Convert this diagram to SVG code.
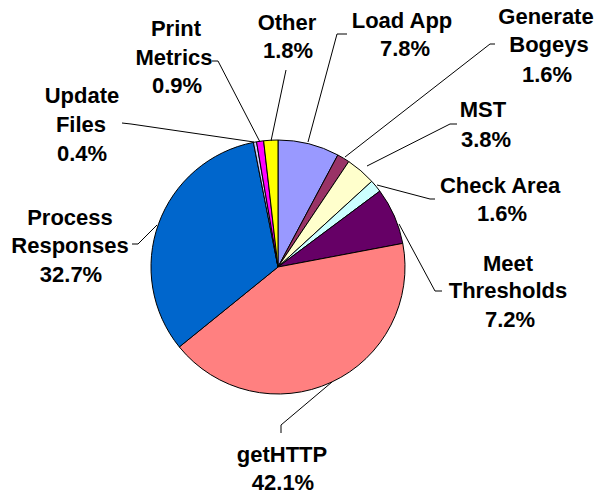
<svg xmlns="http://www.w3.org/2000/svg" width="603" height="494" viewBox="0 0 603 494">
<style>
.s{stroke:#000;stroke-width:1;stroke-linejoin:round}
.l{fill:none;stroke:#000;stroke-width:1}
text{font-family:"Liberation Sans",Arial,sans-serif;font-weight:bold;font-size:22px;fill:#000;text-anchor:middle}
</style>
<rect width="603" height="494" fill="#fff"/>
<g id="slices">
<g id="load-app"><path class="s" fill="#9999FF" d="M278,267 L278,140 A127,127 0 0 1 337.84,154.99 Z"/></g>
<g id="generate-bogeys"><path class="s" fill="#993366" d="M278,267 L337.84,154.99 A127,127 0 0 1 348.78,161.55 Z"/></g>
<g id="mst"><path class="s" fill="#FFFFCC" d="M278,267 L348.78,161.55 A127,127 0 0 1 371.76,181.34 Z"/></g>
<g id="check-area"><path class="s" fill="#CCFFFF" d="M278,267 L371.76,181.34 A127,127 0 0 1 379.84,191.12 Z"/></g>
<g id="meet-thresholds"><path class="s" fill="#660066" d="M278,267 L379.84,191.12 A127,127 0 0 1 402.78,243.38 Z"/></g>
<g id="gethttp"><path class="s" fill="#FF8080" d="M278,267 L402.78,243.38 A127,127 0 0 1 179.32,346.95 Z"/></g>
<g id="process-responses"><path class="s" fill="#0066CC" d="M278,267 L179.32,346.95 A127,127 0 0 1 253.40,142.40 Z"/></g>
<g id="update-files"><path class="s" fill="#CCCCFF" d="M278,267 L253.40,142.40 A127,127 0 0 1 256.54,141.83 Z"/></g>
<g id="print-metrics"><path class="s" fill="#FF00FF" d="M278,267 L256.54,141.83 A127,127 0 0 1 263.65,140.81 Z"/></g>
<g id="other"><path class="s" fill="#FFFF00" d="M278,267 L263.65,140.81 A127,127 0 0 1 278,140 Z"/></g>
</g>
<g id="connectors">
<path class="l" d="M347,34 L337,34 L308,142"/>
<path class="l" d="M286,70 L271,141"/>
<path class="l" d="M212,61 L218,61 L260,142"/>
<path class="l" d="M122,123 L131,124 L254,142"/>
<path class="l" d="M132,244 L138,244 L157,225"/>
<path class="l" d="M495,44 L490,44 L345,157"/>
<path class="l" d="M457,124 L450,124 L367,166"/>
<path class="l" d="M435,199 L430,199 L377,185"/>
<path class="l" d="M442,291 L435,291 L399,224"/>
<path class="l" d="M281,433 L281,425 L332,382"/>
</g>
<g id="labels">
<g id="label-load-app"><text x="402" y="28">Load App</text><text x="405" y="56">7.8%</text></g>
<g id="label-other"><text x="287" y="30">Other</text><text x="288" y="58">1.8%</text></g>
<g id="label-print-metrics"><text x="176" y="36">Print</text><text x="174" y="65">Metrics</text><text x="177" y="93">0.9%</text></g>
<g id="label-update-files"><text x="82" y="103">Update</text><text x="81" y="132">Files</text><text x="82" y="161">0.4%</text></g>
<g id="label-process-responses"><text x="70" y="225">Process</text><text x="70" y="253">Responses</text><text x="71" y="282">32.7%</text></g>
<g id="label-generate-bogeys"><text x="546" y="24">Generate</text><text x="549" y="52">Bogeys</text><text x="547" y="82">1.6%</text></g>
<g id="label-mst"><text x="483" y="117">MST</text><text x="486" y="147">3.8%</text></g>
<g id="label-check-area"><text x="500" y="193">Check Area</text><text x="502" y="221">1.6%</text></g>
<g id="label-meet-thresholds"><text x="508" y="271">Meet</text><text x="508" y="298">Thresholds</text><text x="510" y="327">7.2%</text></g>
<g id="label-gethttp"><text x="282" y="462">getHTTP</text><text x="283" y="490">42.1%</text></g>
</g>
</svg>
